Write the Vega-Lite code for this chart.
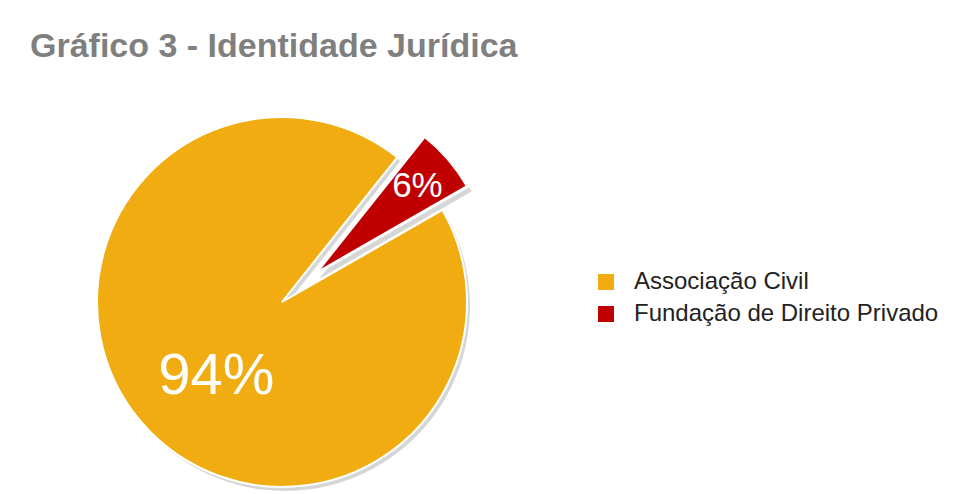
{
  "$schema": "https://vega.github.io/schema/vega-lite/v6.json",
  "autosize": "none",
  "width": 504,
  "height": 444,
  "padding": {"left": 30, "top": 80, "right": 443, "bottom": 0},
  "background": "white",
  "title": {
    "text": "Gráfico 3 - Identidade Jurídica",
    "anchor": "start",
    "frame": "group",
    "font": "Liberation Sans",
    "fontSize": 34,
    "fontWeight": "bold",
    "color": "#7f7f7f",
    "baseline": "bottom",
    "offset": 16,
    "dy": 34
  },
  "data": {
    "values": [
      {"categoria": "Associação Civil", "pct": 0.94},
      {"categoria": "Fundação de Direito Privado", "pct": 0.06}
    ]
  },
  "encoding": {
    "theta": {"field": "pct", "type": "quantitative", "stack": true, "scale": {"domain": [0, 1], "range": [1.05, 7.333]}},
    "order": {"field": "categoria", "type": "nominal", "sort": "ascending"}
  },
  "layer": [
    {
      "mark": {"type": "arc", "outerRadius": 185, "xOffset": 3, "yOffset": 4, "color": "#d6d6d6"},
      "encoding": {
        "opacity": {"condition": {"test": "datum.categoria === 'Associação Civil'", "value": 1}, "value": 0}
      }
    },
    {
      "mark": {"type": "arc", "outerRadius": 176, "xOffset": 37, "yOffset": -23, "color": "#d6d6d6"},
      "encoding": {
        "opacity": {"condition": {"test": "datum.categoria !== 'Associação Civil'", "value": 1}, "value": 0}
      }
    },
    {
      "mark": {"type": "arc", "outerRadius": 185, "stroke": "white", "strokeWidth": 2},
      "encoding": {
        "color": {"field": "categoria", "type": "nominal", "scale": {"domain": ["Associação Civil", "Fundação de Direito Privado"], "range": ["#f0ac10", "#c00000"]},
          "legend": {"title": null, "orient": "none", "legendX": 564, "legendY": 190, "symbolType": "square", "symbolSize": 256, "symbolStrokeWidth": 0, "labelFont": "Liberation Sans", "labelFontSize": 24, "labelColor": "#222222", "labelOffset": 16, "labelLimit": 0, "rowPadding": 8}},
        "opacity": {"condition": {"test": "datum.categoria === 'Associação Civil'", "value": 1}, "value": 0}
      }
    },
    {
      "mark": {"type": "arc", "outerRadius": 176, "xOffset": 33, "yOffset": -28, "stroke": "white", "strokeWidth": 3},
      "encoding": {
        "color": {"field": "categoria", "type": "nominal"},
        "opacity": {"condition": {"test": "datum.categoria !== 'Associação Civil'", "value": 1}, "value": 0}
      }
    },
    {
      "mark": {"type": "text", "radius": 97, "xOffset": 8, "yOffset": 12, "font": "Liberation Sans", "fontSize": 58, "color": "white", "align": "center", "baseline": "middle"},
      "encoding": {
        "text": {"field": "pct", "type": "quantitative", "format": ".0%"},
        "opacity": {"condition": {"test": "datum.categoria === 'Associação Civil'", "value": 1}, "value": 0}
      }
    },
    {
      "mark": {"type": "text", "radius": 135, "xOffset": 33, "yOffset": -28, "font": "Liberation Sans", "fontSize": 35, "color": "white", "align": "center", "baseline": "middle"},
      "encoding": {
        "text": {"field": "pct", "type": "quantitative", "format": ".0%"},
        "opacity": {"condition": {"test": "datum.categoria !== 'Associação Civil'", "value": 1}, "value": 0}
      }
    }
  ],
  "config": {"view": {"stroke": null}}
}
